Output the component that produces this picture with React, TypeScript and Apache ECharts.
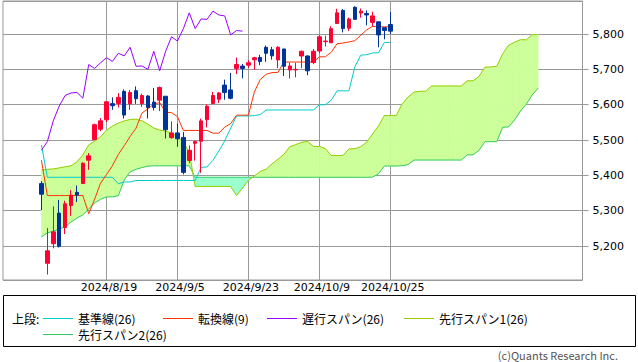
import React, { useEffect, useRef } from "react";
import * as echarts from "echarts";

// ---- data ----
const dates = [
  "2024/8/2","2024/8/5","2024/8/6","2024/8/7","2024/8/8","2024/8/9","2024/8/12","2024/8/13","2024/8/14","2024/8/15",
  "2024/8/16","2024/8/19","2024/8/20","2024/8/21","2024/8/22","2024/8/23","2024/8/26","2024/8/27","2024/8/28","2024/8/29",
  "2024/8/30","2024/9/3","2024/9/4","2024/9/5","2024/9/6","2024/9/9","2024/9/10","2024/9/11","2024/9/12","2024/9/13",
  "2024/9/16","2024/9/17","2024/9/18","2024/9/19","2024/9/20","2024/9/23","2024/9/24","2024/9/25","2024/9/26","2024/9/27",
  "2024/9/30","2024/10/1","2024/10/2","2024/10/3","2024/10/4","2024/10/7","2024/10/8","2024/10/9","2024/10/10","2024/10/11",
  "2024/10/14","2024/10/15","2024/10/16","2024/10/17","2024/10/18","2024/10/21","2024/10/22","2024/10/23","2024/10/24","2024/10/25",
];
const opens = [
  5376.63,5151.14,5206.42,5293.13,5252.57,5314.18,5351.86,5376.98,5442.80,5501.13,
  5530.50,5557.23,5602.88,5603.09,5637.77,5602.37,5639.66,5602.89,5624.51,5607.30,
  5612.74,5623.89,5506.68,5520.08,5507.33,5442.07,5490.51,5496.42,5557.48,5603.34,
  5615.21,5655.51,5641.68,5702.63,5709.19,5711.90,5727.13,5733.65,5762.22,5755.36,
  5726.52,5757.73,5698.19,5698.56,5737.80,5737.80,5719.14,5751.80,5778.36,5775.09,
  5829.81,5866.74,5816.58,5875.62,5859.43,5857.82,5832.70,5834.50,5817.80,5826.75,
];
const closes = [
  5346.56,5186.33,5240.03,5199.50,5319.31,5344.16,5344.39,5434.43,5455.21,5543.22,
  5554.25,5608.25,5597.12,5620.85,5570.64,5634.61,5616.84,5625.80,5592.18,5591.96,
  5648.40,5528.93,5520.07,5503.41,5408.42,5471.05,5495.52,5554.13,5595.76,5626.02,
  5633.09,5634.58,5618.26,5713.64,5702.55,5718.57,5732.93,5722.26,5745.37,5738.17,
  5762.48,5708.75,5709.54,5699.94,5751.07,5695.94,5751.13,5792.04,5780.05,5815.03,
  5859.85,5815.26,5842.47,5841.47,5864.67,5853.98,5851.20,5797.42,5809.86,5808.12,
];
const lows = [
  5302.03,5119.26,5193.56,5195.54,5233.85,5285.51,5324.37,5376.98,5415.46,5501.13,
  5525.21,5550.74,5585.50,5591.57,5560.95,5585.16,5602.34,5593.48,5560.95,5583.71,
  5581.79,5504.33,5503.66,5480.83,5402.62,5434.49,5441.72,5406.96,5535.50,5601.65,
  5604.53,5614.05,5615.08,5686.42,5674.49,5704.22,5698.99,5712.06,5721.01,5727.34,
  5703.53,5681.28,5674.00,5677.37,5702.83,5683.48,5714.56,5745.02,5764.76,5775.09,
  5829.81,5804.48,5808.34,5840.25,5846.11,5824.46,5821.17,5762.41,5784.92,5799.98,
];
const highs = [
  5383.89,5250.89,5312.34,5330.64,5328.03,5358.85,5371.20,5436.50,5463.22,5546.23,
  5561.98,5608.30,5620.51,5632.68,5643.22,5641.82,5651.62,5631.18,5627.03,5646.95,
  5651.37,5623.89,5552.99,5546.30,5522.47,5484.20,5497.91,5560.41,5600.71,5636.27,
  5636.05,5670.81,5689.75,5733.57,5715.14,5725.36,5735.32,5741.03,5767.37,5763.78,
  5765.14,5757.73,5719.14,5718.78,5753.04,5739.34,5757.60,5796.80,5795.03,5822.13,
  5871.41,5870.36,5846.52,5878.46,5872.17,5866.92,5863.04,5834.85,5817.80,5862.82,
];
// 転換線(9)
const tenkan = [
  5443.0,5342.7,5342.7,5342.7,5342.7,5342.7,5342.7,5342.7,5291.2,5332.8,
  5377.8,5401.9,5427.2,5459.1,5483.8,5510.1,5533.5,5576.4,5588.4,5601.2,
  5606.3,5578.0,5577.6,5566.2,5527.1,5527.0,5527.0,5527.0,5527.0,5519.4,
  5519.4,5536.7,5546.2,5570.3,5570.3,5570.3,5635.4,5671.3,5686.0,5690.7,
  5691.2,5720.9,5720.7,5720.7,5720.7,5720.7,5720.7,5735.4,5735.4,5748.1,
  5772.7,5774.4,5777.5,5781.0,5796.5,5811.7,5821.6,5820.4,5820.4,5820.4,
];
// 基準線(26)
const kijun = [
  5485.9,5394.5,5394.5,5394.5,5394.5,5394.5,5394.5,5394.5,5394.5,5394.5,
  5394.5,5394.5,5394.5,5376.0,5381.2,5381.2,5385.4,5385.4,5385.4,5385.4,
  5385.4,5385.4,5385.4,5385.4,5385.4,5385.4,5385.4,5422.6,5423.6,5442.7,
  5468.6,5497.6,5533.4,5568.1,5568.1,5568.1,5569.0,5571.8,5585.0,5585.0,
  5585.0,5585.0,5585.0,5585.0,5585.0,5585.0,5585.0,5599.7,5599.7,5612.4,
  5639.2,5639.2,5639.2,5707.0,5740.1,5741.5,5746.3,5746.8,5776.2,5776.2,
];
// 遅行スパン(26): drawn from the first candle
const chikou = [
  5471.05,5495.52,5554.13,5595.76,5626.02,5633.09,5634.58,5618.26,5713.64,5702.55,
  5718.57,5732.93,5722.26,5745.37,5738.17,5762.48,5708.75,5709.54,5699.94,5751.07,
  5695.94,5751.13,5792.04,5780.05,5815.03,5859.85,5815.26,5842.47,5841.47,5864.67,
  5853.98,5851.20,5797.42,5809.86,5808.12,
];
// 先行スパン1(26): from the first candle to 25 sessions ahead
const spanA = [
  5415,5417,5418,5421,5424,5427,5438,5458,5486,5497,
  5509,5528,5539,5548,5554,5558,5559,5554,5545,5534,
  5528,5525,5520,5509,5494,5464.5,5368.6,5368.6,5368.6,5368.6,
  5368.6,5368.6,5368.6,5342.9,5363.6,5386.1,5398.2,5410.8,5417.5,5432.5,
  5445.7,5459.5,5480.9,5486.9,5493.3,5495.9,5481.7,5481.5,5475.8,5456.3,
  5456.2,5456.2,5474.8,5475.3,5481.1,5494.0,5517.2,5539.8,5569.2,5569.2,
  5569.2,5602.2,5621.6,5635.5,5637.9,5638.1,5653.0,5652.9,5652.9,5652.9,
  5652.9,5652.9,5667.6,5667.6,5680.2,5706.0,5706.8,5708.3,5744.0,5768.3,
  5776.6,5783.9,5783.6,5798.3,5798.3,
];
// 先行スパン2(26)
const spanB = [
  5226,5237,5242,5248,5254,5268,5279,5288,5305,5322,
  5332,5339,5339,5342,5387,5410,5417,5422,5426,5427,
  5427,5427,5427,5427,5427,5427,5394.5,5394.5,5394.5,5394.5,
  5394.5,5394.5,5394.5,5394.5,5394.5,5394.5,5394.5,5394.5,5394.5,5394.5,
  5394.5,5394.5,5394.5,5394.5,5394.5,5394.5,5394.5,5394.5,5394.5,5394.5,
  5394.5,5394.5,5394.5,5394.5,5394.5,5394.5,5395.0,5404.5,5426.4,5426.4,
  5426.4,5427.3,5430.2,5443.3,5443.3,5443.3,5443.3,5443.3,5443.3,5443.3,
  5443.3,5443.3,5458.0,5458.0,5470.7,5495.3,5495.3,5495.3,5536.0,5537.0,
  5556.2,5582.0,5601.4,5627.7,5647.0,
];
const yTickLabels = [5200, 5300, 5400, 5500, 5600, 5700, 5800];
const xTickLabels = ["2024/8/19", "2024/9/5", "2024/9/23", "2024/10/9", "2024/10/25"];
const legendNames = ["基準線(26)", "転換線(9)", "遅行スパン(26)", "先行スパン1(26)", "先行スパン2(26)"];

// ---- styles / layout ----
const C_KIJUN = "#00cccc";
const C_TENKAN = "#ff3300";
const C_CHIKOU = "#9900ff";
const C_SPAN1 = "#99cc00";
const C_SPAN2 = "#33cc66";
const legendColors = [C_KIJUN, C_TENKAN, C_CHIKOU, C_SPAN1, C_SPAN2];
const legendPos = [[43, 318], [163, 318], [267, 318], [404, 318], [43, 334]];
const LEAD = 6;
const AHEAD = 25;
const TRAIL = 7;
const N = LEAD + dates.length + AHEAD + TRAIL;
const JP = '"Noto Sans CJK JP", "Noto Sans", sans-serif';

export default function App() {
  const ref = useRef<HTMLDivElement>(null);
  useEffect(() => {
    const chart = echarts.init(ref.current as HTMLDivElement, null, { renderer: "svg" });
    const categories: string[] = [];
    for (let i = 0; i < N; i++) {
      const k = i - LEAD;
      categories.push(k >= 0 && k < dates.length ? dates[k] : "_" + i);
    }
    const pad = (arr: number[]) => {
      const out: any[] = new Array(N).fill("-");
      arr.forEach((v, i) => (out[LEAD + i] = v));
      return out;
    };
    const candles: any[] = new Array(N).fill("-");
    dates.forEach((_, i) => (candles[LEAD + i] = [opens[i], closes[i], lows[i], highs[i]]));
    const cloud: number[][] = [];
    for (let j = 0; j < spanA.length - 1; j++) {
      cloud.push([LEAD + j, spanA[j], spanB[j], spanA[j + 1], spanB[j + 1]]);
    }
    const POS = "#ccff99";
    const NEG = "#99ffcc";
    const showLabel = (_: number, v: string) => xTickLabels.indexOf(v) >= 0;

    const lineSeries = (data: number[], color: string, z: number) => ({
      type: "line",
      data: pad(data),
      symbol: "none",
      silent: true,
      z,
      lineStyle: { color, width: 1 },
      itemStyle: { color },
    });

    const graphic: any[] = [
      {
        type: "rect",
        shape: { x: 3.5, y: 295.5, width: 632, height: 51 },
        style: { fill: "none", stroke: "#000", lineWidth: 1 },
        silent: true,
      },
      {
        type: "text",
        x: 12,
        y: 318,
        style: { text: "上段:", font: `12px ${JP}`, fill: "#000", verticalAlign: "middle" },
      },
      {
        type: "text",
        x: 618,
        y: 355,
        style: {
          text: "(c)Quants Research Inc.",
          font: `11px ${JP}`,
          fill: "#555",
          textAlign: "right",
          verticalAlign: "middle",
        },
      },
    ];
    legendNames.forEach((name, i) => {
      const [x, y] = legendPos[i];
      graphic.push({
        type: "line",
        shape: { x1: x, y1: y + 0.5, x2: x + 30, y2: y + 0.5 },
        style: { stroke: legendColors[i], lineWidth: 1 },
        silent: true,
      });
      graphic.push({
        type: "text",
        x: x + 35,
        y: y,
        style: { text: name, font: `12px ${JP}`, fill: "#000", verticalAlign: "middle" },
      });
    });

    chart.setOption({
      animation: false,
      backgroundColor: "#fff",
      grid: {
        left: 3,
        right: 55.5,
        top: 1,
        bottom: 82,
        show: true,
        borderColor: "#999",
        borderWidth: 1,
        backgroundColor: "transparent",
      },
      xAxis: {
        type: "category",
        data: categories,
        boundaryGap: true,
        axisLine: { show: false },
        axisTick: { show: false },
        axisLabel: {
          interval: showLabel,
          color: "#000",
          fontFamily: "DejaVu Sans",
          fontSize: 11,
          margin: 2,
          padding: [0, 0, 0, 5],
        },
        splitLine: {
          show: true,
          interval: showLabel,
          alignWithLabel: true,
          lineStyle: { color: "#999", width: 1 },
        },
      },
      yAxis: {
        type: "value",
        position: "right",
        min: 5103.8,
        max: 5893.4,
        splitNumber: 8,
        minInterval: 100,
        maxInterval: 100,
        axisLine: { show: false },
        axisTick: { show: true, length: 6, lineStyle: { color: "#999" } },
        axisLabel: {
          showMinLabel: false,
          showMaxLabel: false,
          margin: 10,
          color: "#000",
          fontFamily: "DejaVu Sans",
          fontSize: 11,
          formatter: (v: number) =>
            yTickLabels.indexOf(Math.round(v)) >= 0 ? Math.round(v).toLocaleString("en-US") : "",
        },
        splitLine: { show: true, lineStyle: { color: "#999", width: 1 } },
      },
      series: [
        {
          type: "custom",
          data: cloud,
          silent: true,
          z: 1,
          encode: { x: 0, y: [1, 2, 3, 4] },
          renderItem: (_p: any, api: any) => {
            const x0 = api.value(0);
            const a0 = api.value(1);
            const b0 = api.value(2);
            const a1 = api.value(3);
            const b1 = api.value(4);
            const pA0 = api.coord([x0, a0]);
            const pB0 = api.coord([x0, b0]);
            const pA1 = api.coord([x0 + 1, a1]);
            const pB1 = api.coord([x0 + 1, b1]);
            const d0 = a0 - b0;
            const d1 = a1 - b1;
            const poly = (pts: number[][], fill: string) => ({
              type: "polygon",
              shape: { points: pts },
              style: { fill, stroke: fill, lineWidth: 0.6 },
            });
            const children: any[] = [];
            if (d0 * d1 >= 0) {
              children.push(poly([pA0, pA1, pB1, pB0], d0 + d1 >= 0 ? POS : NEG));
            } else {
              const t = d0 / (d0 - d1);
              const c = [pA0[0] + t * (pA1[0] - pA0[0]), pA0[1] + t * (pA1[1] - pA0[1])];
              children.push(poly([pA0, c, pB0], d0 > 0 ? POS : NEG));
              children.push(poly([c, pA1, pB1], d1 > 0 ? POS : NEG));
            }
            return { type: "group", children };
          },
        },
        lineSeries(spanB, C_SPAN2, 2),
        lineSeries(spanA, C_SPAN1, 2),
        lineSeries(kijun, C_KIJUN, 3),
        lineSeries(tenkan, C_TENKAN, 3),
        lineSeries(chikou, C_CHIKOU, 3),
        {
          type: "candlestick",
          data: candles,
          barWidth: 4,
          silent: true,
          z: 5,
          itemStyle: {
            color: "#ff0033",
            color0: "#003399",
            borderColor: "#ff0033",
            borderColor0: "#003399",
            borderWidth: 1,
          },
        },
      ],
      graphic,
    });
    return () => chart.dispose();
  }, []);
  return (
    <div
      ref={ref}
      style={{ position: "absolute", left: 0, top: 0, width: 638, height: 362, background: "#fff" }}
    />
  );
}
